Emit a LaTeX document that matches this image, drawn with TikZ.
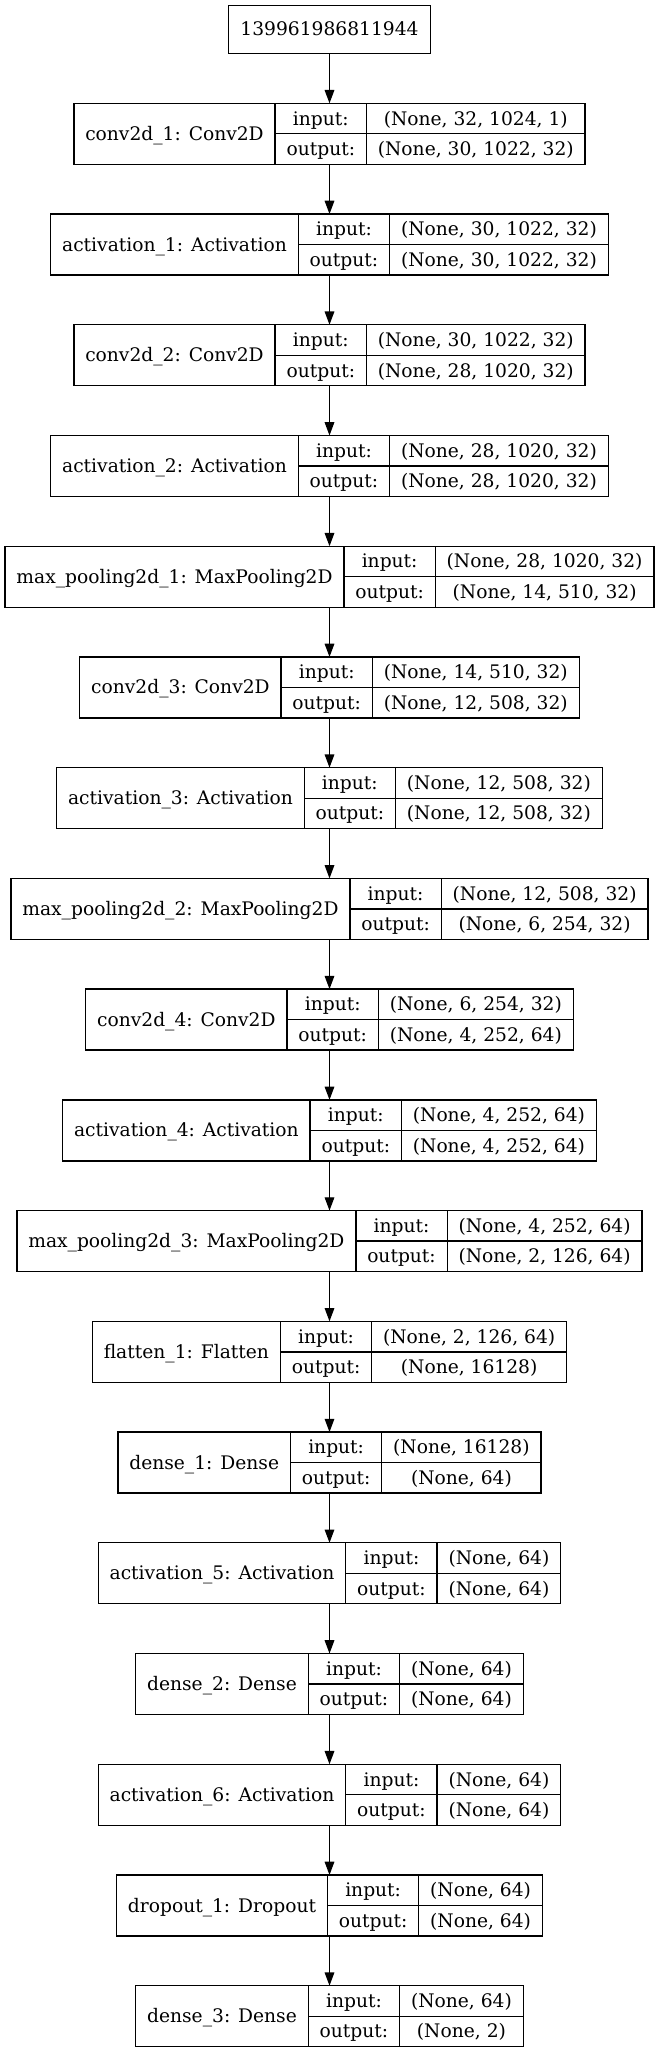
\documentclass[tikz,border=0pt]{standalone}
\usepackage{fontspec}
\setmainfont{DejaVu Serif}
\usetikzlibrary{arrows.meta}
\newlength{\lwa}\newlength{\lwb}\newlength{\lwc}\newlength{\ltmp}
\newcommand{\lfont}{\fontsize{18.67}{22}\selectfont}
\newcommand{\lpad}{22.8pt}
\tikzset{
  cell/.style={draw=black, line width=1.33pt, inner sep=0pt, outer sep=0pt,
    minimum height=30.5pt, text height=13pt, text depth=0pt, font=\lfont, anchor=center},
  lay/.style={inner sep=0pt, outer sep=0pt, minimum height=61pt},
  arr/.style={draw=black, line width=1.33pt, -{Triangle[length=13.3pt,width=9.6pt]}}
}
% measure widths (outside the picture)
\newcommand{\measureLY}[5]{%
  \settowidth{\ltmp}{\lfont #3}%
  \expandafter\xdef\csname mwa#1\endcsname{\the\ltmp}%
  \settowidth{\lwc}{\lfont #4}\settowidth{\ltmp}{\lfont #5}%
  \ifdim\ltmp>\lwc \lwc=\ltmp\fi
  \expandafter\xdef\csname mwc#1\endcsname{\the\lwc}%
}
\newcommand{\mklayer}[5]{%
  \lwa=\csname mwa#1\endcsname\relax \addtolength{\lwa}{\lpad}%
  \lwb=\mwb\relax \addtolength{\lwb}{\lpad}%
  \lwc=\csname mwc#1\endcsname\relax \addtolength{\lwc}{\lpad}%
  \pgfmathsetmacro{\mltop}{103.3+110.73*#2}%
  \pgfmathsetmacro{\mlleft}{329.5-(\lwa+\lwb+\lwc)/2}%
  \pgfmathsetmacro{\mlxa}{\mlleft+\lwa/2}%
  \pgfmathsetmacro{\mlxb}{\mlleft+\lwa+\lwb/2}%
  \pgfmathsetmacro{\mlxc}{\mlleft+\lwa+\lwb+\lwc/2}%
  \pgfmathsetmacro{\mlya}{\mltop+15.25}%
  \pgfmathsetmacro{\mlym}{\mltop+30.5}%
  \pgfmathsetmacro{\mlyb}{\mltop+45.75}%
  \node[lay, minimum width={\lwa+\lwb+\lwc}] (#1) at (329.5,\mlym) {};
  \node[cell, minimum width=\lwa, minimum height=61pt] (#1-name) at (\mlxa,\mlym) {#3};
  \node[cell, minimum width=\lwb] (#1-inl) at (\mlxb,\mlya) {input:};
  \node[cell, minimum width=\lwb] (#1-outl) at (\mlxb,\mlyb) {output:};
  \node[cell, minimum width=\lwc] (#1-inv) at (\mlxc,\mlya) {#4};
  \node[cell, minimum width=\lwc] (#1-outv) at (\mlxc,\mlyb) {#5};
}
\newcommand{\alllayers}{%
\LY{L1}{0}{conv2d\_1: Conv2D}{(None, 32, 1024, 1)}{(None, 30, 1022, 32)}%
\LY{L2}{1}{activation\_1: Activation}{(None, 30, 1022, 32)}{(None, 30, 1022, 32)}%
\LY{L3}{2}{conv2d\_2: Conv2D}{(None, 30, 1022, 32)}{(None, 28, 1020, 32)}%
\LY{L4}{3}{activation\_2: Activation}{(None, 28, 1020, 32)}{(None, 28, 1020, 32)}%
\LY{L5}{4}{max\_pooling2d\_1: MaxPooling2D}{(None, 28, 1020, 32)}{(None, 14, 510, 32)}%
\LY{L6}{5}{conv2d\_3: Conv2D}{(None, 14, 510, 32)}{(None, 12, 508, 32)}%
\LY{L7}{6}{activation\_3: Activation}{(None, 12, 508, 32)}{(None, 12, 508, 32)}%
\LY{L8}{7}{max\_pooling2d\_2: MaxPooling2D}{(None, 12, 508, 32)}{(None, 6, 254, 32)}%
\LY{L9}{8}{conv2d\_4: Conv2D}{(None, 6, 254, 32)}{(None, 4, 252, 64)}%
\LY{L10}{9}{activation\_4: Activation}{(None, 4, 252, 64)}{(None, 4, 252, 64)}%
\LY{L11}{10}{max\_pooling2d\_3: MaxPooling2D}{(None, 4, 252, 64)}{(None, 2, 126, 64)}%
\LY{L12}{11}{flatten\_1: Flatten}{(None, 2, 126, 64)}{(None, 16128)}%
\LY{L13}{12}{dense\_1: Dense}{(None, 16128)}{(None, 64)}%
\LY{L14}{13}{activation\_5: Activation}{(None, 64)}{(None, 64)}%
\LY{L15}{14}{dense\_2: Dense}{(None, 64)}{(None, 64)}%
\LY{L16}{15}{activation\_6: Activation}{(None, 64)}{(None, 64)}%
\LY{L17}{16}{dropout\_1: Dropout}{(None, 64)}{(None, 64)}%
\LY{L18}{17}{dense\_3: Dense}{(None, 64)}{(None, 2)}%
}
\begin{document}%
\settowidth{\ltmp}{\lfont output:}\xdef\mwb{\the\ltmp}%
\let\LY\measureLY\alllayers%
\begin{tikzpicture}[x=1pt,y=-1pt]
\fill[white] (0,0) rectangle (659,2052);
\useasboundingbox (0,0) rectangle (659,2052);
\node[cell, inner xsep=12pt, minimum height=48pt] (input) at (329.5,29.33) {139961986811944};
\let\LY\mklayer
\alllayers
\draw[arr] (input.south) -- (L1.north);
\foreach \a/\b in {L1/L2,L2/L3,L3/L4,L4/L5,L5/L6,L6/L7,L7/L8,L8/L9,L9/L10,L10/L11,L11/L12,L12/L13,L13/L14,L14/L15,L15/L16,L16/L17,L17/L18}
  \draw[arr] (\a.south) -- (\b.north);
\end{tikzpicture}%
\end{document}
